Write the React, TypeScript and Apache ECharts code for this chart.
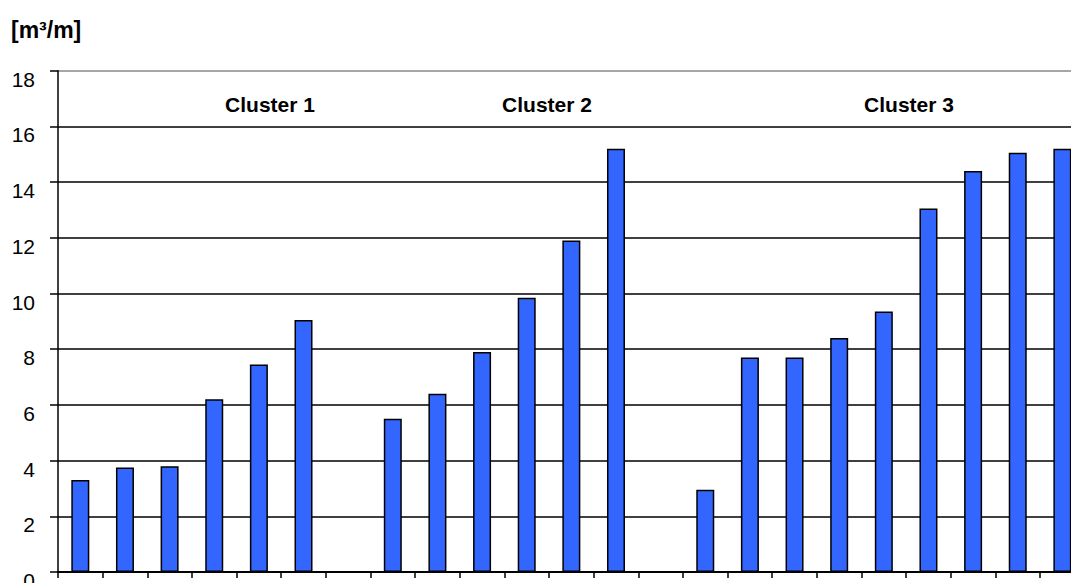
import React, { useEffect, useRef } from "react";
import * as echarts from "echarts";

const categories: string[] = [
  "c1-1", "c1-2", "c1-3", "c1-4", "c1-5", "c1-6", "gap1",
  "c2-1", "c2-2", "c2-3", "c2-4", "c2-5", "c2-6", "gap2",
  "c3-1", "c3-2", "c3-3", "c3-4", "c3-5", "c3-6", "c3-7", "c3-8", "c3-9",
];

const values: (number | null)[] = [
  3.3, 3.75, 3.8, 6.2, 7.45, 9.05, null,
  5.5, 6.4, 7.9, 9.85, 11.9, 15.2, null,
  2.95, 7.7, 7.7, 8.4, 9.35, 13.05, 14.4, 15.05, 15.2,
];

const yTicks = { min: 0, max: 18, interval: 2 };
const unitLabel = "[m³/m]";
const clusterLabels = ["Cluster 1", "Cluster 2", "Cluster 3"];
const clusterCenters = [270, 547, 909];

export default function App() {
  const ref = useRef<HTMLDivElement>(null);
  useEffect(() => {
    if (!ref.current) return;
    const chart = echarts.init(ref.current, null, { renderer: "svg" });
    const splitColors = ["#000", "#000", "#000", "#000", "#000", "#000", "#000", "#000", "#000", "#888"];
    chart.setOption({
      animation: false,
      backgroundColor: "#fff",
      grid: {
        left: 58,
        top: 70.7,
        bottom: 11,
        right: -13.7,
        containLabel: false,
        outerBoundsMode: "none",
      },
      xAxis: {
        type: "category",
        data: categories,
        axisLine: { lineStyle: { color: "#000", width: 2 } },
        axisTick: { show: true, length: 6, lineStyle: { color: "#000", width: 1.5 } },
        axisLabel: { show: false },
        splitLine: { show: false },
      },
      yAxis: {
        type: "value",
        min: yTicks.min,
        max: yTicks.max,
        interval: yTicks.interval,
        axisLine: { show: true, lineStyle: { color: "#000", width: 1.5 } },
        axisTick: { show: true, length: 8, lineStyle: { color: "#000", width: 1.5 } },
        axisLabel: {
          margin: 23,
          fontFamily: "Liberation Sans, Arial, sans-serif",
          fontSize: 21,
          color: "#000",
          verticalAlign: "top",
          lineHeight: 17,
        },
        splitLine: { show: true, lineStyle: { color: splitColors, width: 1.5 } },
      },
      series: [
        {
          type: "bar",
          data: values,
          barWidth: 18,
          itemStyle: { color: "#3366FF", borderColor: "#000", borderWidth: 1.5 },
        },
      ],
      graphic: [
        {
          type: "text",
          left: 11,
          top: 18,
          style: {
            text: unitLabel,
            font: "bold 23px 'Liberation Sans', Arial, sans-serif",
            fill: "#000",
          },
        },
        ...clusterLabels.map((t, i) => ({
          type: "text",
          x: clusterCenters[i],
          y: 104,
          style: {
            text: t,
            font: "bold 21px 'Liberation Sans', Arial, sans-serif",
            fill: "#000",
            align: "center",
            verticalAlign: "middle",
          },
        })),
      ],
    });
    return () => chart.dispose();
  }, []);
  return (
    <div
      ref={ref}
      style={{ position: "fixed", left: 0, top: 0, width: 1071, height: 583, background: "#fff" }}
    />
  );
}
